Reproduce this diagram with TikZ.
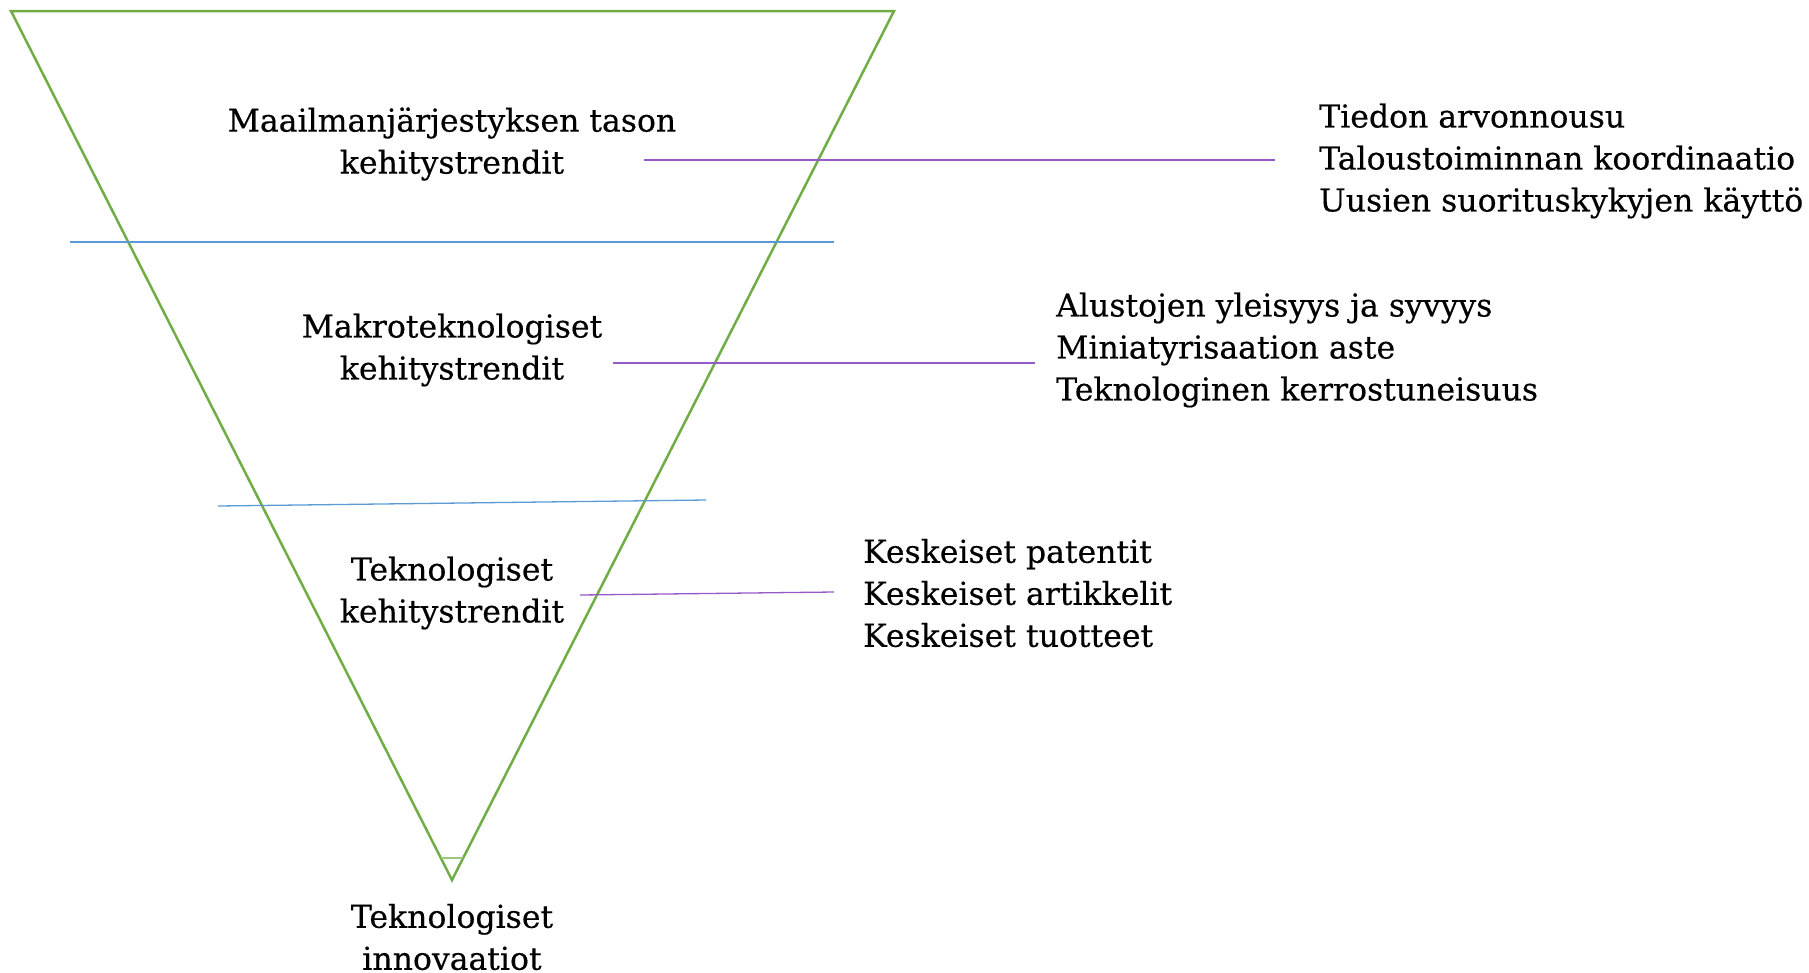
\documentclass[tikz,border=0pt]{standalone}
\usepackage{fontspec}
\setmainfont[FakeBold=0.4]{DejaVu Serif}
\usetikzlibrary{positioning}
\definecolor{pyramid}{RGB}{112,173,71}
\definecolor{divider}{RGB}{91,155,213}
\definecolor{pointer}{RGB}{150,90,200}
\tikzset{
  level/.style={font=\fontsize{31.5}{42}\selectfont, align=center, inner sep=0pt},
  facts/.style={font=\fontsize{31.5}{42}\selectfont, align=left, anchor=west, inner sep=0pt}
}
\begin{document}
\begin{tikzpicture}[x=1pt, y=-1pt]
    \useasboundingbox (0,0) rectangle (1809,972);
    \coordinate (t1) at (11, 11);
    \coordinate (t2) at (894, 11);
    \coordinate (t3) at (452, 880);
    \coordinate (s1) at (441, 858);
    \coordinate (s2) at (463, 858);
    \coordinate (b1) at (70, 242);
    \coordinate (b2) at (834, 242);
    \coordinate (b3) at (218, 506);
    \coordinate (b4) at (706, 500);
    \coordinate (p1) at (644, 160);
    \coordinate (p2) at (1275, 160);
    \coordinate (p3) at (613, 363);
    \coordinate (p4) at (1035, 363);
    \coordinate (p5) at (580, 595);
    \coordinate (p6) at (834, 592);
    \node[level] (a) at (452, 144) {Maailmanjärjestyksen tason\\kehitystrendit};
    \node[level] (b) at (452, 350) {Makroteknologiset\\kehitystrendit};
    \node[level] (c) at (452, 593) {Teknologiset\\kehitystrendit};
    \node[level] (d) at (452, 937) {Teknologiset\\innovaatiot};
    \node[facts] (e) at (1319, 161) {Tiedon arvonnousu\\Taloustoiminnan koordinaatio\\Uusien suorituskykyjen käyttö};
    \node[facts] (f) at (1056, 350) {Alustojen yleisyys ja syvyys\\Miniatyrisaation aste\\Teknologinen kerrostuneisuus};
    \node[facts] (g) at (863, 593) {Keskeiset patentit\\Keskeiset artikkelit\\Keskeiset tuotteet};
    \draw [pyramid, line width=2.5] (t1) -- (t2) -- (t3) -- cycle;
    \draw [pyramid!70, line width=1.5] (s1) -- (s2);
    \draw [divider, line width=1.3] (b1) -- (b2);
    \draw [divider, line width=1.3] (b3) -- (b4);
    \draw [pointer, line width=1.3] (p1) -- (p2);
    \draw [pointer, line width=1.3] (p3) -- (p4);
    \draw [pointer, line width=1.3] (p5) -- (p6);
  \end{tikzpicture}
\end{document}
